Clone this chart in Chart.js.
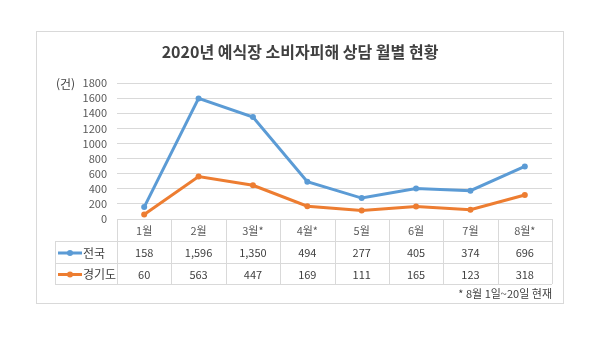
<!DOCTYPE html>
<html lang="ko">
<head>
<meta charset="utf-8">
<title>2020년 예식장 소비자피해 상담 월별 현황</title>
<script src="https://cdn.jsdelivr.net/npm/chart.js@4/dist/chart.umd.min.js"></script>
<style>
  html, body { margin: 0; padding: 0; background: #fff; }
  #wrap { width: 600px; height: 339px; position: relative; }
</style>
</head>
<body>
<div id="wrap"><canvas id="chart" width="600" height="339"></canvas></div>
<script>
const FONT = '"Noto Sans CJK KR", "Noto Sans", sans-serif';

const months = ["1월", "2월", "3월*", "4월*", "5월", "6월", "7월", "8월*"];
const national = [158, 1596, 1350, 494, 277, 405, 374, 696];
const gyeonggi = [60, 563, 447, 169, 111, 165, 123, 318];
const seriesNames = ["전국", "경기도"];
const seriesColors = ["#5b9bd5", "#ed7d31"];
const yTicks = [0, 200, 400, 600, 800, 1000, 1200, 1400, 1600, 1800];

const titleText = "2020년 예식장 소비자피해 상담 월별 현황";
const unitText = "(건)";
const noteText = "* 8월 1일~20일 현재";

function formatNumber(v) {
  return v.toLocaleString("en-US");
}

// frame, title, unit label, data table and footnote
const decorations = {
  id: "decorations",
  beforeDraw(chart) {
    const ctx = chart.ctx;
    ctx.save();
    ctx.fillStyle = "#fff";
    ctx.fillRect(0, 0, chart.width, chart.height);
    ctx.strokeStyle = "#d9d9d9";
    ctx.lineWidth = 1;
    ctx.strokeRect(36.5, 31.5, 527, 272);
    ctx.restore();
  },
  afterDraw(chart) {
    const ctx = chart.ctx;
    const area = chart.chartArea;
    const x = chart.scales.x;
    const colW = (area.right - area.left) / months.length;
    ctx.save();

    ctx.fillStyle = "#404040";
    ctx.font = "bold 16px " + FONT;
    ctx.textAlign = "center";
    ctx.textBaseline = "middle";
    ctx.fillText(titleText, 300, 52);

    ctx.font = "12px " + FONT;
    ctx.textAlign = "left";
    ctx.fillStyle = "#404040";
    ctx.fillText(unitText, 56, 84);

    // table grid
    const rowTop = area.bottom;
    const rows = [rowTop, rowTop + 22, rowTop + 44, rowTop + 65];
    const tableLeft = 55;
    ctx.strokeStyle = "#d9d9d9";
    ctx.lineWidth = 1;
    ctx.beginPath();
    ctx.moveTo(area.left, rows[0] + 0.5);
    ctx.lineTo(area.right, rows[0] + 0.5);
    for (let r = 1; r < rows.length; r++) {
      ctx.moveTo(tableLeft, rows[r] + 0.5);
      ctx.lineTo(area.right, rows[r] + 0.5);
    }
    ctx.moveTo(tableLeft + 0.5, rows[1]);
    ctx.lineTo(tableLeft + 0.5, rows[3]);
    for (let i = 0; i <= months.length; i++) {
      const cx = Math.round(area.left + i * colW) + 0.5;
      ctx.moveTo(cx, rows[0]);
      ctx.lineTo(cx, rows[3]);
    }
    ctx.stroke();

    // header labels
    ctx.font = "11px " + FONT;
    ctx.textAlign = "center";
    ctx.fillStyle = "#595959";
    months.forEach((m, i) => {
      ctx.fillText(m, x.getPixelForValue(i), (rows[0] + rows[1]) / 2 + 1);
    });

    // series rows
    const data = [national, gyeonggi];
    data.forEach((vals, s) => {
      const cy = (rows[s + 1] + rows[s + 2]) / 2 + 1;
      ctx.strokeStyle = seriesColors[s];
      ctx.lineWidth = 3;
      ctx.beginPath();
      ctx.moveTo(58, cy);
      ctx.lineTo(82, cy);
      ctx.stroke();
      ctx.fillStyle = seriesColors[s];
      ctx.beginPath();
      ctx.arc(70, cy, 3, 0, Math.PI * 2);
      ctx.fill();
      ctx.fillStyle = "#404040";
      ctx.font = "12px " + FONT;
      ctx.textAlign = "left";
      ctx.fillText(seriesNames[s], 83, cy);
      ctx.font = "11px " + FONT;
      ctx.textAlign = "center";
      vals.forEach((v, i) => {
        ctx.fillText(formatNumber(v), x.getPixelForValue(i), cy);
      });
    });

    ctx.font = "11px " + FONT;
    ctx.textAlign = "right";
    ctx.fillStyle = "#404040";
    ctx.fillText(noteText, 552, 294);
    ctx.restore();
  },
};

new Chart(document.getElementById("chart"), {
  type: "line",
  data: {
    labels: months,
    datasets: [
      {
        label: seriesNames[0],
        data: national,
        borderColor: seriesColors[0],
        backgroundColor: seriesColors[0],
        borderWidth: 3,
        pointRadius: 3,
        pointBorderWidth: 0,
        tension: 0,
      },
      {
        label: seriesNames[1],
        data: gyeonggi,
        borderColor: seriesColors[1],
        backgroundColor: seriesColors[1],
        borderWidth: 3,
        pointRadius: 3,
        pointBorderWidth: 0,
        tension: 0,
      },
    ],
  },
  options: {
    responsive: false,
    animation: false,
    layout: { padding: { left: 0, right: 48, top: 83, bottom: 120 } },
    plugins: {
      legend: { display: false },
      title: { display: false },
      tooltip: { enabled: false },
    },
    scales: {
      x: {
        display: false,
        offset: true,
      },
      y: {
        min: 0,
        max: 1800,
        afterBuildTicks(scale) {
          scale.ticks = yTicks.map((v) => ({ value: v }));
        },
        afterFit(scale) {
          scale.width = 117;
        },
        border: { display: false },
        grid: { color: "#d9d9d9", drawTicks: false },
        ticks: {
          autoSkip: false,
          padding: 10,
          color: "#595959",
          font: { family: FONT, size: 11 },
          callback: (v) => String(v),
        },
      },
    },
  },
  plugins: [decorations],
});
</script>
</body>
</html>
